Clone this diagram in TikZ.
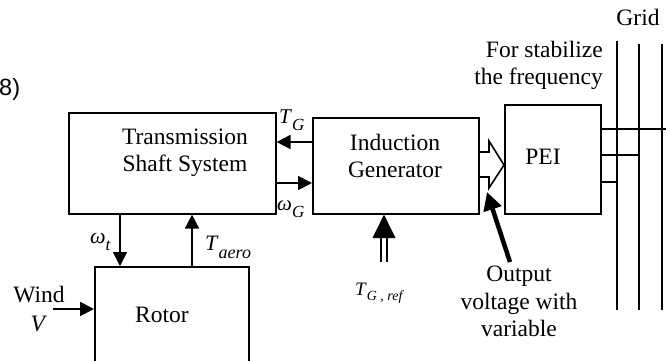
\documentclass[tikz,border=0pt]{standalone}
\usepackage{fontspec}
\setmainfont{Liberation Serif}
\newfontfamily\sansf{Liberation Sans}
\usetikzlibrary{arrows.meta,calc}
\newcommand\fsz[1]{\fontsize{#1}{#1}\selectfont}
\begin{document}
\begin{tikzpicture}[x=1pt,y=-1pt,
  box/.style={draw, line width=1.6pt, rectangle, inner sep=0pt, anchor=north west},
  arr/.style={line width=1.8pt, -{Triangle[length=14pt,width=14pt]}},
  txt/.style={inner sep=0pt, font=\fontsize{23.5}{27}\selectfont, align=center},
  mlab/.style={inner sep=0pt, anchor=base west},
  wire/.style={line width=1.6pt}]
\useasboundingbox (0,0) rectangle (670,360);
\clip (0,0) rectangle (670,360);

% boxes
\node[box, minimum width=207pt, minimum height=101pt] (TSS) at (68,112) {};
\node[box, minimum width=166pt, minimum height=96pt] (IG) at (312,117) {};
\node[box, minimum width=96pt, minimum height=109pt] (PEI) at (504,104) {};
\node[box, minimum width=154pt, minimum height=130pt] (Rot) at (94,266) {};

% box texts
\node[txt] (tTSS) at (185,153) {Transmission\\Shaft System};
\node[txt] (tIG) at (395,155.5) {Induction\\Generator};
\node[txt, anchor=base] (tPEI) at (543,164) {PEI};
\node[txt, anchor=base] (tRot) at (162,322) {Rotor};

% other texts
\node[txt, anchor=base west, font=\sansf\fontsize{23.5}{27}\selectfont] (num) at (-1,95) {8)};
\node[txt, anchor=base] (grid) at (638,25) {Grid};
\node[txt, align=right, anchor=east] (stab) at (603,65) {For stabilize\\the frequency};
\node[txt, font=\fontsize{23.5}{27.5}\selectfont] (outv) at (519,301.5) {Output\\voltage with\\variable};
\node[txt, font=\fontsize{23.5}{29}\selectfont] (wind) at (39,309.5) {Wind\\\textit{V}};

% math labels
\node[mlab] (lTG) at (279,123) {\fsz{21}\textit{T}\raisebox{-7pt}{\fsz{17}\textit{G}}};
\node[mlab] (lwG) at (277,210) {\fsz{21}\textit{ω}\raisebox{-7pt}{\fsz{17}\textit{G}}};
\node[mlab] (lwt) at (90,243) {\fsz{22}\textit{ω}\raisebox{-7pt}{\fsz{17}\textit{t}}};
\node[mlab] (lTa) at (205,250) {\fsz{22}\textit{T}\raisebox{-8pt}{\fsz{18}\textit{aero}}};
\node[mlab] (lTr) at (355,295) {\fsz{19}\textit{T}\raisebox{-5pt}{\fsz{14}\textit{G , ref}}};

% coordinates
\coordinate (yTG) at (0,142);
\coordinate (ywG) at (0,183);
\coordinate (xwt) at (120,0);
\coordinate (xTa) at (192,0);
\coordinate (windS) at (53,309);
\coordinate (tgref) at (384,262);
\coordinate (ovS) at (510,262);
\coordinate (ovT) at (487,192);

% connectors
\draw[arr] (IG.west |- yTG) -- (TSS.east |- yTG);
\draw[arr] (TSS.east |- ywG) -- (IG.west |- ywG);
\draw[arr] (TSS.south -| xwt) -- (Rot.north -| xwt);
\draw[arr] (Rot.north -| xTa) -- (TSS.south -| xTa);
\draw[arr] (windS) -- (Rot.west |- windS);

% double arrow T_G,ref
\draw[line width=1.5pt] ($(tgref)+(-3,0)$) -- ($(tgref)+(-3,-25)$);
\draw[line width=1.5pt] ($(tgref)+(3,0)$) -- ($(tgref)+(3,-25)$);
\fill ($(tgref)+(-11.5,-24)$) -- (IG.south -| tgref) -- ($(tgref)+(11.5,-24)$) -- cycle;

% hollow arrow IG -> PEI
\draw[wire, line join=miter] (IG.east |- 0,152) -- (489,152) -- (489,141) -- (PEI.west |- 0,165)
  -- (489,188) -- (489,177) -- (IG.east |- 0,177);

% thick arrow
\draw[line width=4.5pt, -{Triangle[length=18pt,width=18pt]}] (ovS) -- (ovT);

% grid
\coordinate (g1) at (617,41);
\coordinate (g2) at (639,44);
\coordinate (g3) at (662,44);
\draw[wire] (g1) -- (617,310);
\draw[wire] (g2) -- (639,310);
\draw[wire] (g3) -- (662,310);
\draw[wire] (PEI.east |- 0,129) -- (666,129);
\draw[wire] (PEI.east |- 0,155) -- (g2 |- 0,155);
\draw[wire] (PEI.east |- 0,182) -- (g1 |- 0,182);
\end{tikzpicture}
\end{document}
